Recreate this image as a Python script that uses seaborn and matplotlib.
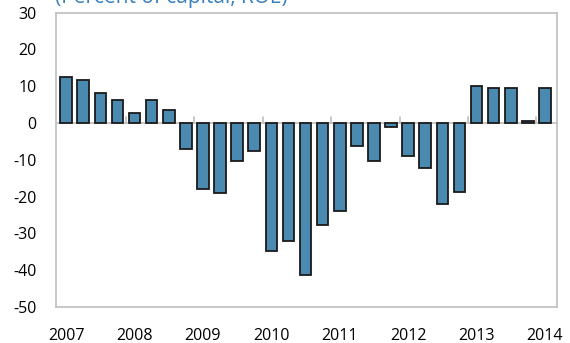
import pandas as pd
import matplotlib
matplotlib.use('Agg')
import matplotlib.pyplot as plt
import seaborn as sns

# Quarterly return on equity, 2007Q1 - 2014Q1
quarters = [f'{y}Q{q}' for y in range(2007, 2014) for q in range(1, 5)] + ['2014Q1']
roe = [12.5, 11.7, 8.2, 6.3, 2.7, 6.3, 3.5,
       -7.1, -18.0, -19.1, -10.2, -7.7, -34.7, -32.0,
       -41.4, -27.6, -23.8, -6.3, -10.2, -1.2, -9.0,
       -12.1, -21.9, -18.8, 10.2, 9.4, 9.4, 0.5, 9.4]
year_labels = ['2007', '2008', '2009', '2010', '2011', '2012', '2013', '2014']
y_ticks = [30, 20, 10, 0, -10, -20, -30, -40, -50]

df = pd.DataFrame({'quarter': quarters, 'roe': roe})

sns.set_style('white')
plt.rcParams['font.family'] = ['Open Sans', 'DejaVu Sans']

fig = plt.figure(figsize=(5.7, 3.43), dpi=100)
ax = fig.add_axes([0.098, 0.105, 0.879, 0.858])

sns.barplot(data=df, x='quarter', y='roe', color='#4a89b0', saturation=1,
            edgecolor='#1a1a1a', linewidth=1.3, width=0.68, ax=ax)

ax.set_xlim(-0.6, 28.7)
ax.set_ylim(-50, 30)

# zero line with small year-boundary ticks
ax.axhline(0, color='#bfbfbf', lw=1.2, zorder=0.5)
for i in range(1, 8):
    ax.plot([4 * i - 0.5, 4 * i - 0.5], [0, 1.6], color='#bfbfbf', lw=1.2, zorder=0.5)

ax.set_xticks(range(0, 29, 4))
ax.set_xticklabels(year_labels)
ax.set_yticks(y_ticks)
ax.set_yticklabels([str(v) for v in y_ticks])
ax.tick_params(axis='x', length=0, pad=15, labelsize=11.5, colors='#000000')
ax.tick_params(axis='y', direction='in', length=5.5, width=1, color='#bfbfbf',
               pad=14, labelsize=11.5, labelcolor='#000000')
ax.set_xlabel('')
ax.set_ylabel('')
for s in ax.spines.values():
    s.set_color('#bfbfbf')
    s.set_linewidth(1.2)

fig.text(0.097, 1 - 3 / 343, '(Percent of capital, ROE)', color='#3a80bf',
         fontsize=15, ha='left', va='baseline')

fig.savefig('out.png', dpi=100)
